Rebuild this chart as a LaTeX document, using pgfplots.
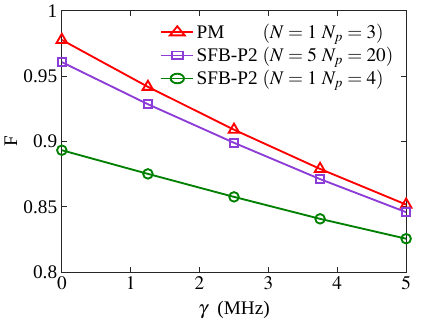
\documentclass[border=0pt]{standalone}
\usepackage{mathptmx}
\usepackage[no-math]{fontspec}
\setmainfont{Liberation Serif}
\usepackage{pgfplots}
\pgfplotsset{compat=1.18}

\definecolor{cpm}{RGB}{255,0,0}
\definecolor{csfb}{RGB}{140,60,215}
\definecolor{cgreen}{RGB}{0,128,0}
\definecolor{axgray}{RGB}{38,38,38}

\begin{document}
\begin{tikzpicture}[font=\fontsize{14.5}{17}\selectfont]
\begin{axis}[
    scale only axis,
    width=259.5pt,
    height=197pt,
    xmin=0, xmax=5,
    ymin=0.8, ymax=1,
    xtick={0,1,2,3,4,5},
    ytick={0.8,0.85,0.9,0.95,1},
    yticklabels={0.8,0.85,0.9,0.95,1},
    xlabel={$\gamma$\ \ (MHz)},
    ylabel={F},
    axis line style={axgray, line width=0.6pt},
    tick style={axgray, line width=0.6pt},
    tick align=inside,
    major tick length=4pt,
    minor tick num=0,
    xlabel style={yshift=-1pt},
    ylabel style={yshift=-2pt},
    legend style={draw=none, fill=none, at={(0.975,0.965)}, anchor=north east,
        row sep=1pt, inner sep=1pt, font=\fontsize{14.5}{17}\selectfont},
    legend cell align=left,
    legend image post style={xscale=1.4},
]
\addplot[cpm, line width=1.4pt, mark=triangle, mark size=4.6pt, mark options={solid}]
    coordinates {(0,0.9777) (1.25,0.9418) (2.5,0.9090) (3.75,0.8790) (5,0.8517)};
\addplot[csfb, line width=1.4pt, mark=square, mark size=3pt]
    coordinates {(0,0.9607) (1.25,0.9285) (2.5,0.8990) (3.75,0.8712) (5,0.8459)};
\addplot[cgreen, line width=1.4pt, mark=o, mark size=3.6pt]
    coordinates {(0,0.8933) (1.25,0.8752) (2.5,0.8576) (3.75,0.8408) (5,0.8256)};
\legend{\rlap{PM}\phantom{SFB-P2} $(N=1\ N_p=3)$,
        SFB-P2 $(N=5\ N_p=20)$,
        SFB-P2 $(N=1\ N_p=4)$}
\end{axis}
\path (current axis.south west) ++(-45pt,-40.5pt) coordinate (bbsw);
\path (current axis.north east) ++(22.5pt,7.5pt) coordinate (bbne);
\useasboundingbox (bbsw) rectangle (bbne);
\end{tikzpicture}
\end{document}
